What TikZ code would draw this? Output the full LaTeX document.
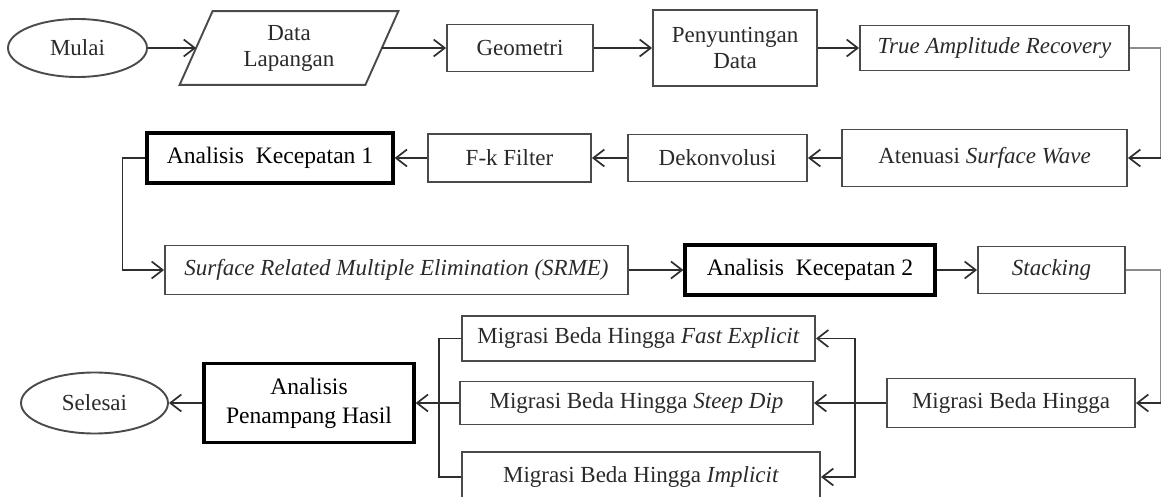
\documentclass[tikz,border=0pt]{standalone}
\usepackage{fontspec}
\setmainfont{Liberation Serif}
\usetikzlibrary{shapes.geometric,arrows.meta}
\definecolor{boxgray}{HTML}{4A4A4A}
\definecolor{linegray}{HTML}{2E2E2E}
\definecolor{lightline}{HTML}{8C8C8C}
\definecolor{txtgray}{HTML}{2A2A2A}
\newcommand\diafont{\fontsize{11.5}{13}\selectfont}
\newcommand\thickfont{\fontsize{11.8}{14.5}\selectfont}
\begin{document}
\begin{tikzpicture}[x=0.5pt,y=-0.5pt,
  box/.style={draw=boxgray, line width=0.95pt, rectangle, inner sep=0pt, align=center, font=\diafont, text=txtgray},
  tbox/.style={draw=black, line width=1.6pt, rectangle, inner sep=0pt, align=center, font=\thickfont},
  oval/.style={draw=boxgray, line width=0.95pt, ellipse, inner sep=0pt, font=\diafont, text=txtgray},
  plain/.style={inner sep=0pt, align=center, font=\diafont, text=txtgray},
  arr/.style={draw=linegray, line width=0.85pt, -{Straight Barb[length=5.5pt,width=8.5pt,line width=0.85pt]}},
  conn/.style={draw=linegray, line width=0.85pt},
  lightconn/.style={draw=lightline, line width=0.8pt}]
\useasboundingbox (0,0) rectangle (1162,497);
\clip (0,0) rectangle (1162,497);

% Row 1
\node[oval, minimum width=69.5pt, minimum height=29pt] (mulai) at (77.5,48) {Mulai};
\node[plain, minimum width=92.5pt, minimum height=36.5pt] (dl) at (289,48) {Data\\Lapangan};
\draw[draw=boxgray, line width=0.95pt]
  ([xshift=-8.25pt]dl.south west) -- ([xshift=-8.25pt]dl.south east)
  -- ([xshift=8.25pt]dl.north east) -- ([xshift=8.25pt]dl.north west) -- cycle;
\node[box, minimum width=73pt, minimum height=23.5pt] (geo) at (520,48) {Geometri};
\node[box, minimum width=82pt, minimum height=38pt] (peny) at (735,48) {Penyuntingan\\Data};
\node[box, minimum width=134.5pt, minimum height=22.5pt] (tar) at (994.5,48) {\textit{True Amplitude Recovery}};

% Row 2
\node[tbox, minimum width=123pt, minimum height=25pt] (ak1) at (270,158) {Analisis~~Kecepatan 1};
\node[box, minimum width=81.5pt, minimum height=24pt] (fk) at (509.5,158) {F-k Filter};
\node[box, minimum width=89.5pt, minimum height=23.5pt] (deko) at (717.5,158) {Dekonvolusi};
\node[box, minimum width=142.5pt, minimum height=28.5pt] (aten) at (984.5,158) {Atenuasi \textit{Surface Wave}};

% Row 3
\node[box, minimum width=231.5pt, minimum height=24.5pt] (srme) at (396.5,270) {\textit{Surface Related Multiple Elimination (SRME)}};
\node[tbox, minimum width=125pt, minimum height=25pt] (ak2) at (810,270) {Analisis~~Kecepatan 2};
\node[box, minimum width=73.5pt, minimum height=23.5pt] (stack) at (1051.5,270) {\textit{Stacking}};

% Bottom
\node[box, minimum width=124pt, minimum height=24.5pt] (mbh) at (1011,403) {Migrasi Beda Hingga};
\node[box, minimum width=176.5pt, minimum height=22.5pt] (fe) at (638.5,338.5) {Migrasi Beda Hingga \textit{Fast Explicit}};
\node[box, minimum width=176.5pt, minimum height=21.5pt] (sd) at (636.5,403) {Migrasi Beda Hingga \textit{Steep Dip}};
\node[box, minimum width=179pt, minimum height=25pt] (impl) at (641,477) {Migrasi Beda Hingga \textit{Implicit}};
\node[tbox, minimum width=105pt, minimum height=39.5pt] (aph) at (309,403) {Analisis\\Penampang Hasil};
\node[oval, minimum width=73.5pt, minimum height=30.5pt] (sel) at (94.5,403) {Selesai};

% Connectors row 1
\draw[arr] (mulai) -- (dl);
\draw[arr] (dl) -- (geo);
\draw[arr] (geo) -- (peny);
\draw[arr] (peny) -- (tar);
\coordinate (r1) at (1160.5,48);
\coordinate (r2) at (1160.5,158);
\draw[lightconn] (tar.east) -- (r1) -- (r2);
\draw[arr] (r2) -- (aten.east);

% Row 2
\draw[arr] (aten) -- (deko);
\draw[arr] (deko) -- (fk);
\draw[arr] (fk) -- (ak1);
\draw[arr] (ak1.west) -- ++(-23,0) |- (srme.west);

% Row 3
\draw[arr] (srme) -- (ak2);
\draw[arr] (ak2) -- (stack);
\coordinate (r3) at (1160.5,270);
\coordinate (r4) at (1160.5,403);
\draw[lightconn] (stack.east) -- (r3) -- (r4);
\draw[arr] (r4) -- (mbh.east);

% Bottom
\coordinate (rbus) at (855,403);
\draw[arr] (mbh) -- (sd);
\draw[arr] (rbus) |- (fe.east);
\draw[arr] (rbus) |- (impl.east);
\coordinate (lbus) at (439,403);
\draw[conn] (fe.west) -| (lbus);
\draw[conn] (impl.west) -| (lbus);
\draw[arr] (sd) -- (aph);
\draw[arr] (aph) -- (sel);
\end{tikzpicture}
\end{document}
